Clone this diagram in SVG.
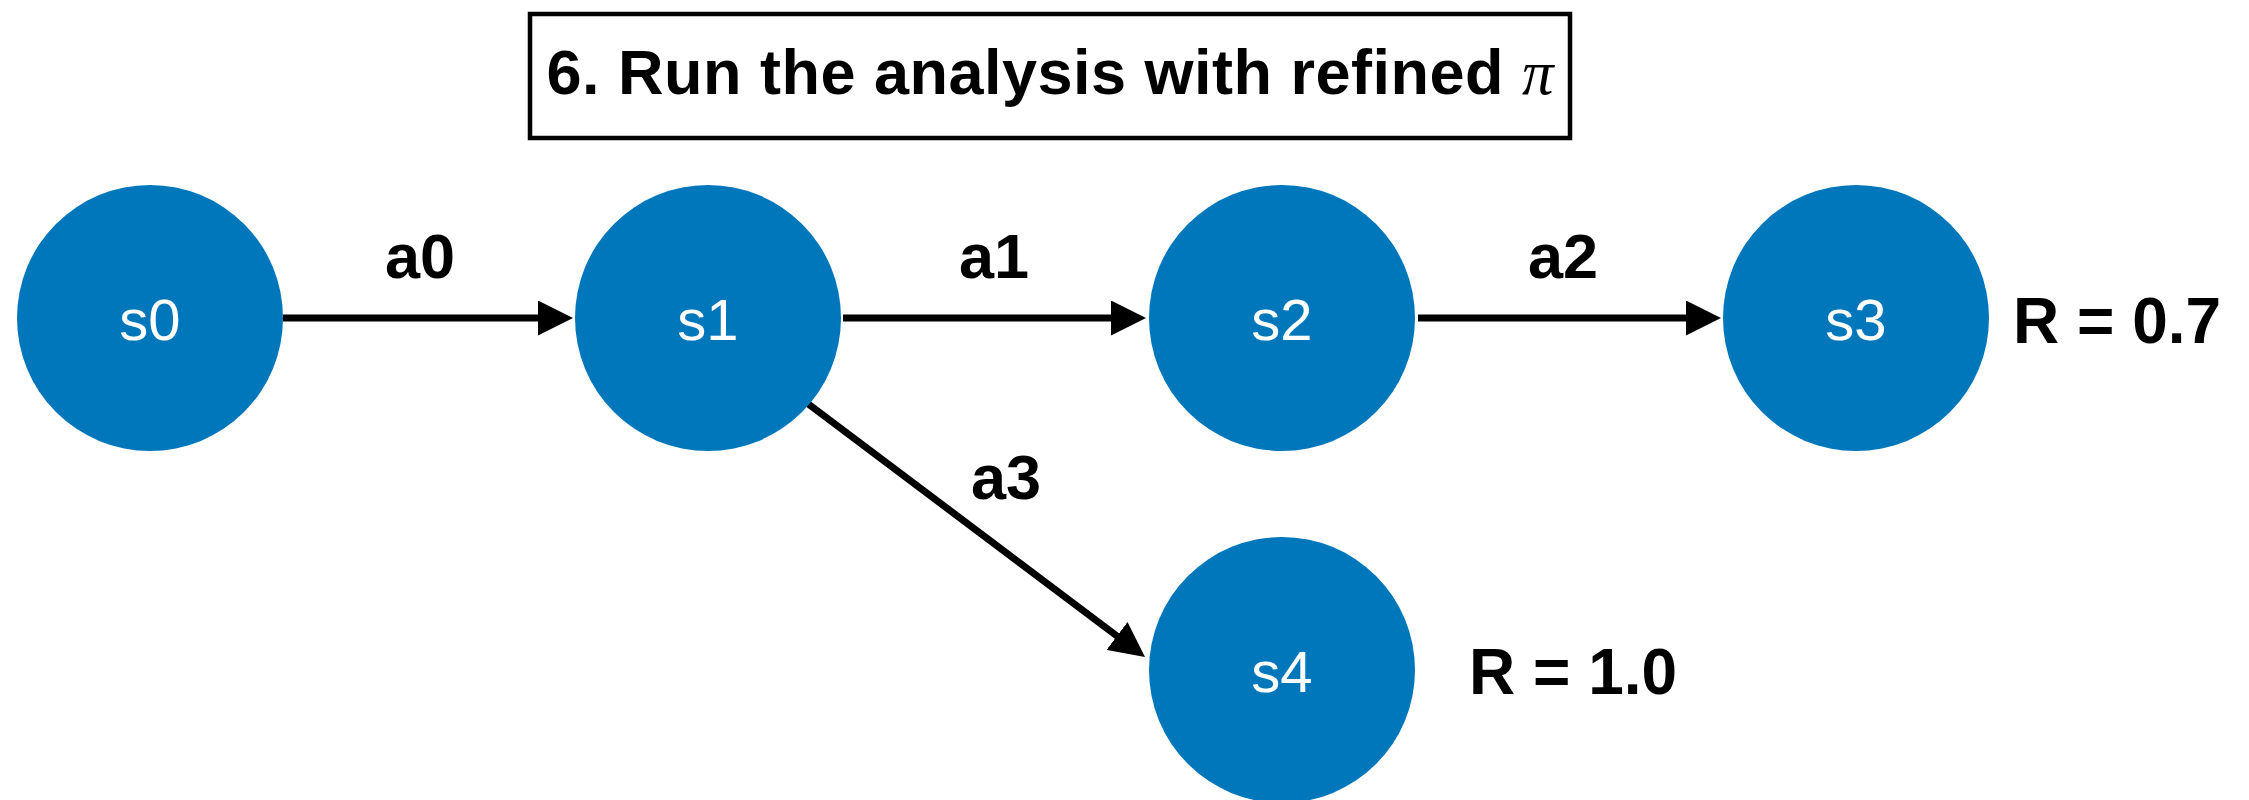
<svg xmlns="http://www.w3.org/2000/svg" width="2249" height="800" viewBox="0 0 2249 800">
  <style>
    .node { fill: #0077bb; }
    .nlabel { font-family: "Liberation Sans", Arial, sans-serif; font-size: 58px; fill: #ffffff; text-anchor: middle; }
    .elabel { font-family: "Liberation Sans", Arial, sans-serif; font-size: 63px; font-weight: bold; fill: #000000; text-anchor: middle; }
    .reward { font-family: "Liberation Sans", Arial, sans-serif; font-size: 64px; font-weight: bold; fill: #000000; }
    .edge { stroke: #000000; stroke-width: 7; fill: none; }
    .title { font-family: "Liberation Sans", Arial, sans-serif; font-size: 63px; font-weight: bold; fill: #000000; text-anchor: middle; }
  </style>
  <defs>
    <marker id="arrow" viewBox="0 0 35 35" refX="2" refY="17.5" markerWidth="35" markerHeight="35" markerUnits="userSpaceOnUse" orient="auto">
      <path d="M0,0 L35,17.5 L0,35 Z" fill="#000000"/>
    </marker>
  </defs>
  <rect width="2249" height="800" fill="#ffffff"/>

  <g id="title">
    <rect x="530" y="14" width="1040" height="124" fill="#ffffff" stroke="#000000" stroke-width="4.5"/>
    <text class="title" x="1050" y="94" textLength="1007" lengthAdjust="spacing">6. Run the analysis with refined <tspan font-family="'Liberation Serif', 'DejaVu Serif', serif" font-style="italic" font-weight="normal">π</tspan></text>
  </g>

  <g id="connectors">
    <g id="e-a0">
      <line class="edge" x1="283" y1="318" x2="540" y2="318" marker-end="url(#arrow)"/>
      <text class="elabel" x="420" y="278">a0</text>
    </g>
    <g id="e-a1">
      <line class="edge" x1="843" y1="318" x2="1113" y2="318" marker-end="url(#arrow)"/>
      <text class="elabel" x="994" y="278">a1</text>
    </g>
    <g id="e-a2">
      <line class="edge" x1="1418" y1="318" x2="1688" y2="318" marker-end="url(#arrow)"/>
      <text class="elabel" x="1563" y="278">a2</text>
    </g>
    <g id="e-a3">
      <line class="edge" x1="807" y1="403" x2="1118.6" y2="637.2" marker-end="url(#arrow)"/>
      <text class="elabel" x="1006" y="499">a3</text>
    </g>
  </g>

  <g id="s0">
    <circle class="node" cx="150" cy="318" r="133"/>
    <text class="nlabel" x="150" y="340">s0</text>
  </g>
  <g id="s1">
    <circle class="node" cx="708" cy="318" r="133"/>
    <text class="nlabel" x="708" y="340">s1</text>
  </g>
  <g id="s2">
    <circle class="node" cx="1282" cy="318" r="133"/>
    <text class="nlabel" x="1282" y="340">s2</text>
  </g>
  <g id="s3">
    <circle class="node" cx="1856" cy="318" r="133"/>
    <text class="nlabel" x="1856" y="340">s3</text>
    <text class="reward" x="2013" y="343">R = 0.7</text>
  </g>
  <g id="s4">
    <circle class="node" cx="1282" cy="670" r="133"/>
    <text class="nlabel" x="1282" y="692">s4</text>
    <text class="reward" x="1469" y="694">R = 1.0</text>
  </g>
</svg>
